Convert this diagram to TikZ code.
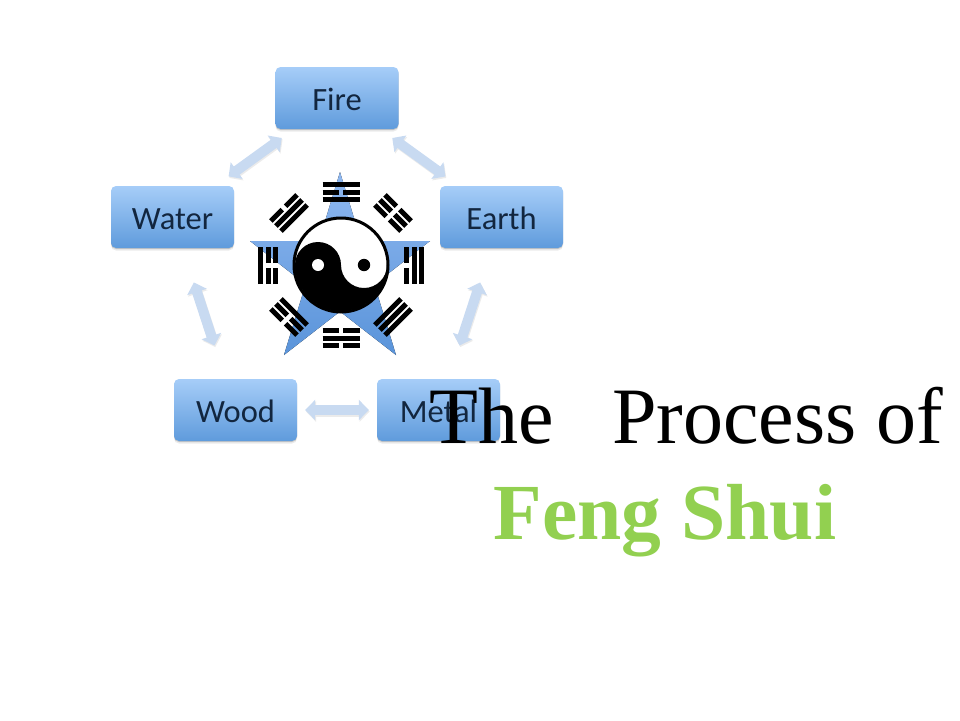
\documentclass[tikz,border=0pt]{standalone}
\usepackage{fontspec}
\setmainfont{Liberation Serif}
\newfontfamily\boxfont{Carlito}
\usetikzlibrary{shadows,arrows.meta}
\definecolor{boxtop}{HTML}{A6CDF8}
\definecolor{boxbot}{HTML}{5F9BDC}
\definecolor{boxtext}{HTML}{12263F}
\definecolor{arrowblue}{HTML}{C8DAF1}
\definecolor{startop}{HTML}{8FB8F0}
\definecolor{starbot}{HTML}{5A94DA}
\definecolor{titlegreen}{HTML}{92D050}
\tikzset{
  elementbox/.style={rectangle,rounded corners=5pt,minimum width=123pt,minimum height=62pt,
    inner sep=0pt,top color=boxtop,bottom color=boxbot,text=boxtext,
    text height=30pt,text depth=6pt,
    font=\boxfont\fontsize{32.5}{36}\selectfont,
    drop shadow={shadow xshift=0pt,shadow yshift=-1pt,opacity=.16,fill=black},
    drop shadow={shadow xshift=0pt,shadow yshift=-2.5pt,opacity=.08,fill=black}},
  link/.style={line width=10pt,draw=arrowblue,{Triangle[width=20pt,length=10pt]}-{Triangle[width=20pt,length=10pt]}},
  linkshade/.style={line width=10pt,draw=black!8,{Triangle[width=20pt,length=10pt]}-{Triangle[width=20pt,length=10pt]},transform canvas={xshift=.8pt,yshift=-1.5pt}},
  bar/.style={line width=5pt,draw=black},
  titletext/.style={anchor=base west,inner sep=0pt,font=\fontsize{80}{88}\selectfont}
}
% #1 centre, #2 rotation, #3 outer, #4 middle, #5 inner: 1 = broken bar
\newcommand{\trigrambar}[2]{%
  \ifnum#2=1
    \draw[bar] (-18.5,#1) -- (-2.4,#1); \draw[bar] (2.4,#1) -- (18.5,#1);
  \else
    \draw[bar] (-18.5,#1) -- (18.5,#1);
  \fi}
\newcommand{\trigram}[5]{%
  \begin{scope}[shift={#1},rotate=#2]
    \trigrambar{-7.2}{#3}\trigrambar{0}{#4}\trigrambar{7.2}{#5}
  \end{scope}}
\begin{document}
\begin{tikzpicture}[x=1pt,y=-1pt]
\useasboundingbox (0,0) rectangle (960,720);
% star
\fill[top color=startop,bottom color=starbot]
  (340,172) -- (361,241) -- (430,241) -- (374.4,284.4) -- (396,355) -- (340,311.5)
  -- (284,355) -- (305.6,284.4) -- (250,241) -- (319,241) -- cycle;
% yin yang
\begin{scope}[shift={(341,265)},y=1pt]
  \fill[white] (0,0) circle[radius=47];
  \fill[black] (-46,0) arc[start angle=180,end angle=360,radius=46]
     arc[start angle=0,end angle=-180,radius=23]
     arc[start angle=0,end angle=180,radius=23] -- cycle;
  \draw[black,line width=3pt] (0,0) circle[radius=47];
  \fill[white] (-23,0) circle[radius=6];
  \fill[black] (23,0) circle[radius=6.2];
\end{scope}
% trigrams
\trigram{(341,192)}{0}{0}{1}{0}
\trigram{(341,338)}{0}{1}{0}{1}
\trigram{(268,265.5)}{90}{0}{1}{1}
\trigram{(414,265.5)}{-90}{0}{0}{1}
\trigram{(289,213)}{45}{1}{0}{0}
\trigram{(393,213)}{-45}{1}{1}{1}
\trigram{(289,317)}{135}{1}{1}{0}
\trigram{(393,317)}{-135}{0}{0}{0}
% element boxes
\node[elementbox] (fire)  at (337,98)    {Fire};
\node[elementbox] (water) at (172.5,217) {Water};
\node[elementbox] (earth) at (501.5,217) {Earth};
\node[elementbox] (wood)  at (235.5,410) {Wood};
\node[elementbox] (metal) at (438.5,410) {Metal};
% links
\foreach \style in {linkshade,link}{
  \draw[\style,shorten <=16pt,shorten >=15pt] (water) -- (fire);
  \draw[\style,shorten <=15pt,shorten >=16pt] (fire) -- (earth);
  \draw[\style,shorten <=36pt,shorten >=35pt] (earth) -- (metal);
  \draw[\style,shorten <=36pt,shorten >=35pt] (water) -- (wood);
  \draw[\style,shorten <=8pt,shorten >=8pt] (wood) -- (metal);
}
% title
\node[titletext] (t1) at (429,443) {The};
\node[titletext] (t2) at (612,443) {Process of};
\node[titletext,font=\fontsize{79.5}{88}\selectfont\bfseries,text=titlegreen] (t3) at (493.5,539) {Feng Shui};
\end{tikzpicture}
\end{document}
